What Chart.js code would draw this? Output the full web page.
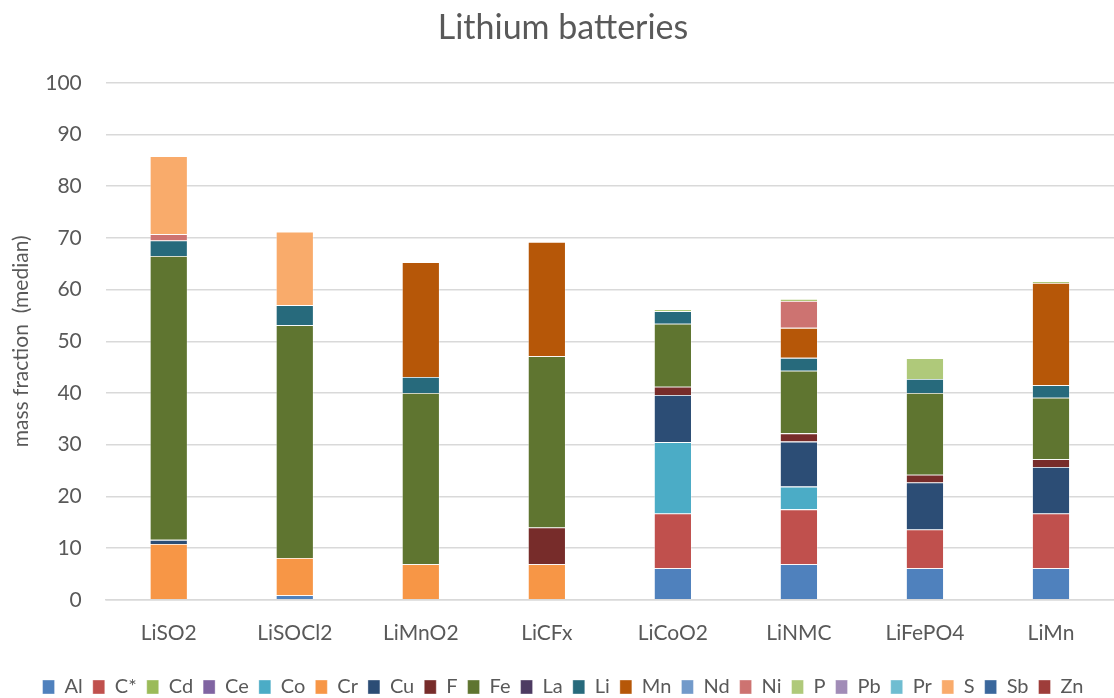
<!DOCTYPE html>
<html>
<head>
<meta charset="utf-8">
<script src="https://cdn.jsdelivr.net/npm/chart.js@4/dist/chart.umd.min.js"></script>
<style>
html,body{margin:0;padding:0;background:#fff;}
#wrap{width:1114px;height:698px;position:relative;}
</style>
</head>
<body>
<div id="wrap"><canvas id="c" width="1114" height="698"></canvas></div>
<script>
const categories = ["LiSO2","LiSOCl2","LiMnO2","LiCFx","LiCoO2","LiNMC","LiFePO4","LiMn"];
const elements = ["Al","C*","Cd","Ce","Co","Cr","Cu","F","Fe","La","Li","Mn","Nd","Ni","P","Pb","Pr","S","Sb","Zn"];
const colors = ["#4F81BD","#C0504D","#9BBB59","#8064A2","#4BACC6","#F79646","#2C4D75","#772C2A","#5F7530","#4D3B62","#276A7C","#B65708","#729ACA","#CD7371","#AFC97A","#A18CB7","#6FBDD1","#F9AB6B","#3A679C","#9E3D3A"];

// values per element, one per category (null = not present)
const Al  = [null, 0.9, null, null, 6.1, 6.9, 6.1, 6.1];
const Cstar = [null, null, null, null, 10.6, 10.6, 7.5, 10.6];
const Cd  = [null, null, null, null, null, null, null, null];
const Ce  = [null, null, null, null, null, null, null, null];
const Co  = [null, null, null, null, 13.8, 4.4, null, null];
const Cr  = [10.8, 7.2, 6.9, 6.9, null, null, null, null];
const Cu  = [0.8, null, null, null, 9.1, 8.7, 9.1, 9.0];
const F   = [null, null, null, 7.1, 1.6, 1.6, 1.5, 1.5];
const Fe  = [54.9, 45.0, 33.1, 33.1, 12.2, 12.1, 15.8, 11.9];
const La  = [null, null, null, null, null, null, null, null];
const Li  = [3.0, 3.9, 3.1, null, 2.4, 2.5, 2.7, 2.4];
const Mn  = [null, null, 22.2, 22.1, null, 5.8, null, 19.8];
const Nd  = [null, null, null, null, null, null, null, null];
const Ni  = [1.2, null, null, null, null, 5.2, null, null];
const P   = [null, null, null, null, 0.4, 0.4, 4.05, 0.3];
const Pb  = [null, null, null, null, null, null, null, null];
const Pr  = [null, null, null, null, null, null, null, null];
const S   = [15.1, 14.2, null, null, null, null, null, null];
const Sb  = [null, null, null, null, null, null, null, null];
const Zn  = [null, null, null, null, null, null, null, null];
const yTicks = [0,10,20,30,40,50,60,70,80,90,100];

const seriesData = [Al, Cstar, Cd, Ce, Co, Cr, Cu, F, Fe, La, Li, Mn, Nd, Ni, P, Pb, Pr, S, Sb, Zn];

const FONT = "Lato, 'Open Sans', 'Noto Sans', sans-serif";
const TXT = "#595959";

const datasets = elements.map((name, i) => ({
  label: name,
  data: seriesData[i],
  backgroundColor: colors[i],
  borderColor: "rgba(255,255,255,0.45)",
  borderWidth: 0.8,
  barPercentage: 0.6,
  categoryPercentage: 0.5
}));

new Chart(document.getElementById("c"), {
  type: "bar",
  data: { labels: categories, datasets },
  options: {
    responsive: false,
    animation: false,
    layout: { padding: { left: 9, right: -3, top: 8, bottom: -9 } },
    plugins: {
      title: {
        display: true,
        text: "Lithium batteries",
        color: TXT,
        font: { family: FONT, size: 34, weight: "normal" },
        padding: { top: 0, bottom: 34 }
      },
      legend: {
        position: "bottom",
        labels: {
          color: TXT,
          font: { family: FONT, size: 20 },
          boxWidth: 12,
          boxHeight: 14,
          padding: 10
        }
      },
      tooltip: { enabled: false }
    },
    scales: {
      x: {
        stacked: true,
        grid: { display: false },
        border: { display: true, color: "#d9d9d9", width: 1.5 },
        ticks: { color: TXT, font: { family: FONT, size: 21 }, padding: 13 },
        afterFit: (scale) => { scale.height += 8; }
      },
      y: {
        stacked: true,
        min: 0,
        max: 100,
        afterBuildTicks: (axis) => { axis.ticks = yTicks.map(v => ({ value: v })); },
        grid: { color: "#d9d9d9", lineWidth: 1.5, drawTicks: false },
        border: { display: false },
        ticks: { color: TXT, font: { family: FONT, size: 21 }, padding: 24 },
        title: {
          display: true,
          text: "mass fraction  (median)",
          color: TXT,
          font: { family: FONT, size: 21 },
          padding: { top: 0, bottom: -13 }
        }
      }
    }
  }
});
</script>
</body>
</html>
